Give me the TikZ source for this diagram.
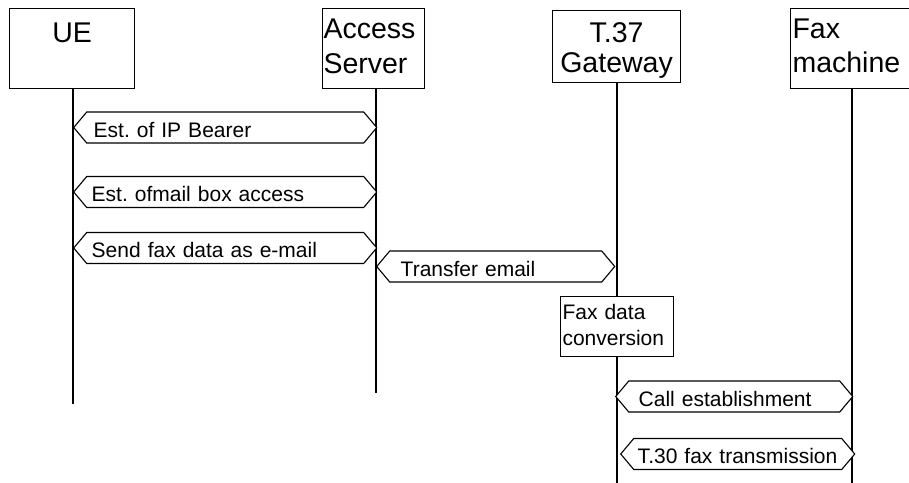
\documentclass[tikz,border=0pt]{standalone}
\usepackage{fontspec}
\setmainfont{Liberation Sans}
\usetikzlibrary{shapes.symbols}
\frenchspacing

\tikzset{
  head/.style={draw, line width=1.1pt, inner xsep=1pt, inner ysep=0pt,
    anchor=north west, font=\fontsize{28.5}{35}\selectfont},
  msg/.style={signal, signal to=east and west, signal pointer angle=100,
    draw, fill=white, line width=1.1pt, inner ysep=0pt,
    text height=25pt, text depth=6pt, align=left, anchor=west,
    font=\fontsize{21}{26}\selectfont},
  life/.style={line width=1.1pt}
}

\begin{document}
\begin{tikzpicture}[x=1pt,y=-1pt]
  \useasboundingbox (0,0) rectangle (909,482);
  \clip (0,0) rectangle (909,482);

  % entities
  \node[head, minimum width=125pt, text height=34pt, text depth=46pt] (ue) at (9,8) {UE};
  \node[head, text width=100pt, align=left, text height=30pt, text depth=50pt] (as) at (322,8) {Access\\Server};
  \node[head, text width=126pt, align=center, text height=32pt, text depth=40pt,
    font=\fontsize{28.5}{30}\selectfont] (gw) at (552,10) {T.37\\Gateway};
  \node[head, text width=125pt, align=left, inner xsep=2pt, text height=30pt, text depth=50pt,
    font=\fontsize{28.5}{34}\selectfont] (fm) at (790,8) {Fax\\machine};

  % lifelines
  \coordinate (ue-end) at (73,404);
  \coordinate (as-end) at (376,393);
  \coordinate (gw-end) at (617,490);
  \coordinate (fm-end) at (852,490);
  \draw[life] (ue-end |- ue.south) -- (ue-end);
  \draw[life] (as-end |- as.south) -- (as-end);
  \draw[life] (gw-end |- gw.south) -- (gw-end);
  \draw[life] (fm-end |- fm.south) -- (fm-end);

  % messages
  \node[msg, inner xsep=7pt, text width=263pt] (ipb) at (73,127.5) {Est. of IP Bearer};
  \node[msg, inner xsep=5pt, text width=267pt] (mba) at (73,192) {Est. ofmail box access};
  \node[msg, inner xsep=5pt, text width=267pt] (sfd) at (73,248) {Send fax data as e-mail};
  \node[msg, inner xsep=11pt, text width=190pt] (tre) at (376,266.5) {Transfer email};
  \node[draw, fill=white, line width=1.1pt, anchor=north west, text width=109pt,
    align=left, inner xsep=2pt, inner ysep=0pt, text height=23pt, text depth=37pt,
    font=\fontsize{21}{26}\selectfont] (conv) at (560,296) {Fax data\\conversion};
  \node[msg, inner xsep=10pt, text width=191pt] (cal) at (615,396.5) {Call establishment};
  \node[msg, inner xsep=4pt, text width=200pt] (t30) at (620,454) {\mbox{T.30 fax transmission}};
\end{tikzpicture}
\end{document}
